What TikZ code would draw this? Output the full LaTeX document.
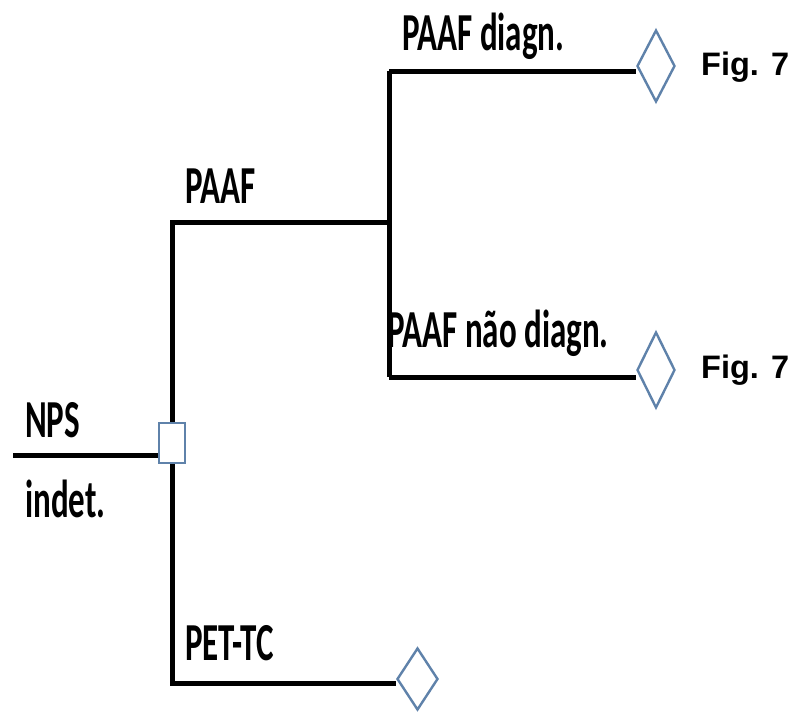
\documentclass[tikz,border=0pt]{standalone}
\usepackage{fontspec}
\setmainfont{Carlito}
\newfontfamily\arialf{Liberation Sans}
\usetikzlibrary{shapes.geometric}
\definecolor{dblue}{RGB}{95,130,170}
\newcommand{\tl}[1]{\scalebox{1}[1.62]{#1}}
\pgfdeclarelayer{paper}
\pgfdeclarelayer{bg}
\pgfsetlayers{paper,bg,main}
\begin{document}
\begin{tikzpicture}[x=1pt,y=-1pt,
  br/.style={line width=5pt, black, line join=miter},
  sqbox/.style={draw=dblue, line width=2.4pt, fill=white, rectangle, minimum width=26pt, minimum height=40pt, inner sep=0pt},
  dia/.style={draw=dblue, line width=2.4pt, fill=white, diamond, minimum width=38pt, minimum height=72pt, inner sep=0pt},
  lbl/.style={anchor=base west, inner sep=0pt, font=\fontsize{33}{33}\selectfont\bfseries},
  fig/.style={anchor=base west, inner sep=0pt, font=\fontsize{32.5}{32}\selectfont\arialf\bfseries}]
\begin{pgfonlayer}{paper}
\fill[white] (0,0) rectangle (793,713);
\end{pgfonlayer}
\useasboundingbox (0,0) rectangle (793,713);
% nodes
\node[sqbox] (sq) at (172,443) {};
\node[dia] (d1) at (656,66) {};
\node[dia, minimum height=76pt] (d2) at (656,370) {};
\node[dia, minimum width=41pt, minimum height=62pt] (d3) at (417.5,679) {};
% coordinates
\coordinate (nps) at (13,455);
\coordinate (c1) at (172,222);
\coordinate (j) at (389,222);
\coordinate (c2) at (389,71);
\coordinate (c3) at (389,377);
\coordinate (c4) at (172,683);
% branches
\begin{pgfonlayer}{bg}
\draw[br] (nps) -- (nps -| sq.west);
\draw[br] (sq.north) -- (c1) -- (j);
\draw[br] (c2) -- (c3);
\draw[br] (c2) -- (c2 -| d1.west);
\draw[br] (c3) -- (c3 -| d2.west);
\draw[br] (sq.south) -- (c4) -- (c4 -| d3.west);
\end{pgfonlayer}
% labels
\node[lbl] (tnps) at (25,437) {\tl{NPS}};
\node[lbl] (tind) at (25,517) {\tl{indet.}};
\node[lbl] (tpaaf) at (185,203) {\tl{PAAF}};
\node[lbl] (tpd) at (402,50) {\tl{PAAF diagn.}};
\node[lbl] (tpnd) at (387,347) {\tl{PAAF não diagn.}};
\node[lbl] (tpet) at (185,660) {\tl{PET-TC}};
\node[fig] (f1) at (701,75) {Fig. 7};
\node[fig] (f2) at (701,378) {Fig. 7};
\end{tikzpicture}
\end{document}
